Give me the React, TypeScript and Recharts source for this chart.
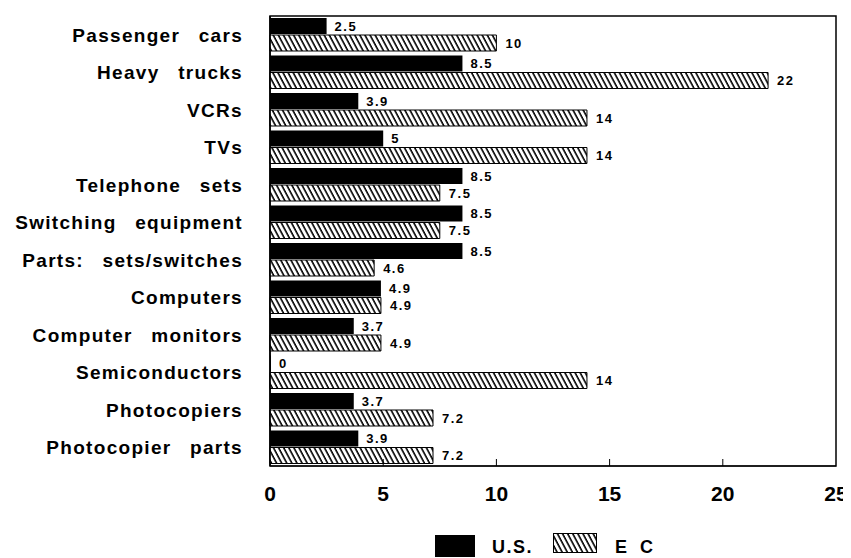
import React from "react";
import { BarChart, Bar, XAxis, YAxis, LabelList, Legend, ReferenceArea } from "recharts";

const categories = [
  "Passenger cars",
  "Heavy trucks",
  "VCRs",
  "TVs",
  "Telephone sets",
  "Switching equipment",
  "Parts: sets/switches",
  "Computers",
  "Computer monitors",
  "Semiconductors",
  "Photocopiers",
  "Photocopier parts",
];
const usValues = [2.5, 8.5, 3.9, 5, 8.5, 8.5, 8.5, 4.9, 3.7, 0, 3.7, 3.9];
const ecValues = [10, 22, 14, 14, 7.5, 7.5, 4.6, 4.9, 4.9, 14, 7.2, 7.2];
const xTicks = [0, 5, 10, 15, 20, 25];

const rows = categories.map((name, i) => ({ name, us: usValues[i], ec: ecValues[i] }));

const SANS = "'Liberation Sans', Arial, sans-serif";

const labelStyle = { fontFamily: SANS, fontWeight: "bold", fontSize: 13, fill: "#000", letterSpacing: 1.5 };

const HatchLegend = () => (
  <svg width={843} height={30} style={{ display: "block" }}>
    <rect x={427} y={7} width={40} height={22} fill="#000" />
    <text x={484} y={25} fontFamily={SANS} fontWeight="bold" fontSize={18} letterSpacing={1.5}>
      U.S.
    </text>
    <rect x={545.5} y={5.5} width={43} height={19} fill="url(#hatch)" stroke="#000" strokeWidth={1} />
    <text x={607} y={25} fontFamily={SANS} fontWeight="bold" fontSize={18} letterSpacing={4}>
      E C
    </text>
  </svg>
);

const XTick = (props: any) => {
  const { x, y, payload } = props;
  return (
    <g>
      {payload.value > 0 && payload.value < 25 && (
        <line x1={x} x2={x} y1={y} y2={y - 7} stroke="#000" />
      )}
      <text x={x} y={y + 35} textAnchor="middle" fontFamily={SANS} fontWeight="bold" fontSize={21} fill="#000">
        {payload.value}
      </text>
    </g>
  );
};

const YTick = (props: any) => {
  const { x, y, payload } = props;
  return (
    <text
      x={x}
      y={y}
      dy={7}
      textAnchor="end"
      fontFamily={SANS}
      fontWeight="bold"
      fontSize={19}
      fill="#000"
      style={{ letterSpacing: 1.3, wordSpacing: 12 }}
    >
      {payload.value}
    </text>
  );
};

export default function App() {
  return (
    <BarChart
      width={843}
      height={550}
      data={rows}
      layout="vertical"
      margin={{ top: 8, right: 15, left: 0, bottom: 0 }}
      barSize={16}
      barGap={1}
    >
      <defs>
        <pattern id="hatch" patternUnits="userSpaceOnUse" width={4.5} height={4.5} patternTransform="rotate(-28)">
          <rect width={4.5} height={4.5} fill="#fff" />
          <line x1={1} y1={0} x2={1} y2={4.5} stroke="#000" strokeWidth={1.6} />
        </pattern>
      </defs>
      <XAxis
        type="number"
        domain={[0, 25]}
        ticks={xTicks}
        height={62}
        axisLine={{ stroke: "#000" }}
        tickLine={false}
        tickSize={0}
        tickMargin={0}
        tick={<XTick />}
      />
      <YAxis
        type="category"
        dataKey="name"
        width={262}
        tickSize={0}
        tickMargin={27}
        axisLine={{ stroke: "#000", strokeWidth: 1.5 }}
        tick={<YTick />}
        interval={0}
      />
      <ReferenceArea x1={0} x2={25} fill="none" stroke="#000" strokeWidth={1.5} ifOverflow="visible" />
      <Legend
        verticalAlign="bottom"
        content={<HatchLegend />}
        wrapperStyle={{ top: 520, bottom: "auto", left: 0, width: 843 }}
      />
      <Bar dataKey="us" name="U.S." fill="#000" minPointSize={1} isAnimationActive={false}>
        <LabelList dataKey="us" position="right" offset={8} style={labelStyle} />
      </Bar>
      <Bar dataKey="ec" name="EC" fill="url(#hatch)" stroke="#000" strokeWidth={1} isAnimationActive={false}>
        <LabelList dataKey="ec" position="right" offset={9} style={labelStyle} />
      </Bar>
    </BarChart>
  );
}
